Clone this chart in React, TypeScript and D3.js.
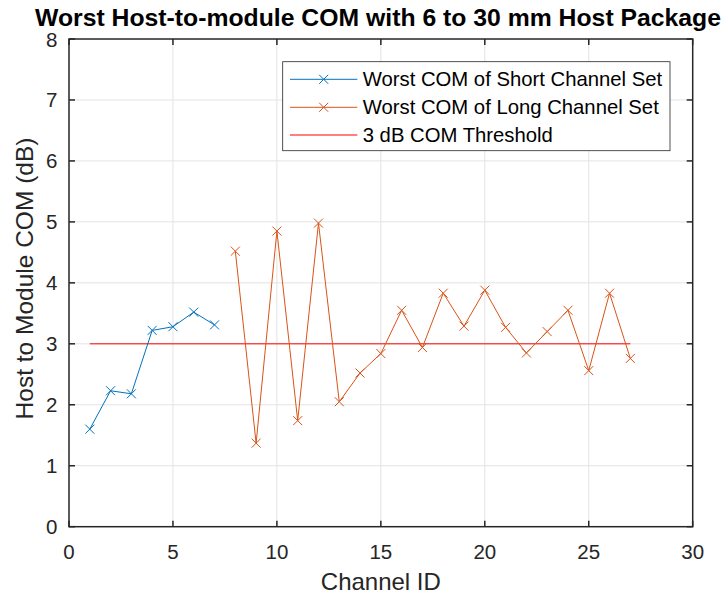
import React from "react";
import * as d3 from "d3";

const shortX = [1, 2, 3, 4, 5, 6, 7];
const shortY = [1.6, 2.23, 2.18, 3.22, 3.28, 3.52, 3.31];
const longX = [8, 9, 10, 11, 12, 13, 14, 15, 16, 17, 18, 19, 20, 21, 22, 23, 24, 25, 26, 27];
const longY = [4.52, 1.37, 4.85, 1.74, 4.98, 2.05, 2.52, 2.84, 3.55, 2.94, 3.83, 3.29, 3.88, 3.27, 2.85, 3.2, 3.55, 2.56, 3.83, 2.76];
const thresholdX = [1, 27];
const thresholdY = [3, 3];
const xTicks = [0, 5, 10, 15, 20, 25, 30];
const yTicks = [0, 1, 2, 3, 4, 5, 6, 7, 8];
const legendLabels = ["Worst COM of Short Channel Set", "Worst COM of Long Channel Set", "3 dB COM Threshold"];

const W = 728, H = 595;
const L = 69, R = 692.7, T = 39, B = 526.7;
const BLUE = "#0072BD", ORANGE = "#D95319", RED = "#FF0000", AX = "#262626";
const FONT = "'Liberation Sans', Arial, Helvetica, sans-serif";

function Marker({ x, y, color }: { x: number; y: number; color: string }) {
  const s = 4.5;
  return (
    <path d={`M${x - s},${y - s}L${x + s},${y + s}M${x - s},${y + s}L${x + s},${y - s}`} stroke={color} strokeWidth={1} fill="none" />
  );
}

export default function App() {
  const x = d3.scaleLinear().domain([0, 30]).range([L, R]);
  const y = d3.scaleLinear().domain([0, 8]).range([B, T]);
  const line = d3.line<[number, number]>().x((d) => x(d[0])).y((d) => y(d[1]));
  const sPts = shortX.map((v, i) => [v, shortY[i]] as [number, number]);
  const lPts = longX.map((v, i) => [v, longY[i]] as [number, number]);
  const tPts = thresholdX.map((v, i) => [v, thresholdY[i]] as [number, number]);

  const legX = 282.7, legY = 61.7, legW = 387.3, legH = 89;
  const rows = [79.3, 107.3, 135];
  const colors = [BLUE, ORANGE, RED];

  return (
    <svg width={W} height={H} style={{ position: "absolute", left: 0, top: 0, background: "#fff" }} fontFamily={FONT}>
      <rect x={0} y={0} width={W} height={H} fill="#fff" />
      {xTicks.slice(1, -1).map((t) => (
        <line key={"gx" + t} x1={x(t)} x2={x(t)} y1={T} y2={B} stroke="#e3e3e3" strokeWidth={1} />
      ))}
      {yTicks.slice(1, -1).map((t) => (
        <line key={"gy" + t} x1={L} x2={R} y1={y(t)} y2={y(t)} stroke="#e3e3e3" strokeWidth={1} />
      ))}
      <path d={line(tPts) || ""} stroke={RED} strokeWidth={1} fill="none" />
      <path d={line(sPts) || ""} stroke={BLUE} strokeWidth={1} fill="none" />
      {sPts.map((p, i) => <Marker key={"s" + i} x={x(p[0])} y={y(p[1])} color={BLUE} />)}
      <path d={line(lPts) || ""} stroke={ORANGE} strokeWidth={1} fill="none" />
      {lPts.map((p, i) => <Marker key={"l" + i} x={x(p[0])} y={y(p[1])} color={ORANGE} />)}
      <rect x={L} y={T} width={R - L} height={B - T} fill="none" stroke={AX} strokeWidth={1.5} />
      {xTicks.map((t) => (
        <g key={"tx" + t}>
          <line x1={x(t)} x2={x(t)} y1={B} y2={B - 6} stroke={AX} strokeWidth={1.5} />
          <line x1={x(t)} x2={x(t)} y1={T} y2={T + 6} stroke={AX} strokeWidth={1.5} />
          <text x={x(t)} y={559} textAnchor="middle" fontSize={20.5} fill={AX}>{t}</text>
        </g>
      ))}
      {yTicks.map((t) => (
        <g key={"ty" + t}>
          <line x1={L} x2={L + 6} y1={y(t)} y2={y(t)} stroke={AX} strokeWidth={1.5} />
          <line x1={R} x2={R - 6} y1={y(t)} y2={y(t)} stroke={AX} strokeWidth={1.5} />
          <text x={57.5} y={y(t) + 7.5} textAnchor="end" fontSize={20.5} fill={AX}>{t}</text>
        </g>
      ))}
      <text x={(L + R) / 2} y={590} textAnchor="middle" fontSize={24} fill={AX}>Channel ID</text>
      <text transform={`translate(33,278.5) rotate(-90)`} textAnchor="middle" fontSize={24.5} fill={AX}>Host to Module COM (dB)</text>
      <text x={35} y={26} fontSize={24} fontWeight="bold" fill="#000" textLength={686} lengthAdjust="spacingAndGlyphs">Worst Host-to-module COM with 6 to 30 mm Host Package</text>
      <rect x={legX} y={legY} width={legW} height={legH} fill="#fff" stroke="#262626" strokeWidth={0.8} />
      {legendLabels.map((lab, i) => (
        <g key={"lg" + i}>
          <line x1={290} x2={357.3} y1={rows[i]} y2={rows[i]} stroke={colors[i]} strokeWidth={1} />
          {i < 2 && <Marker x={323.7} y={rows[i]} color={colors[i]} />}
          <text x={362.7} y={rows[i] + 7} fontSize={20.3} fill="#000">{lab}</text>
        </g>
      ))}
    </svg>
  );
}
